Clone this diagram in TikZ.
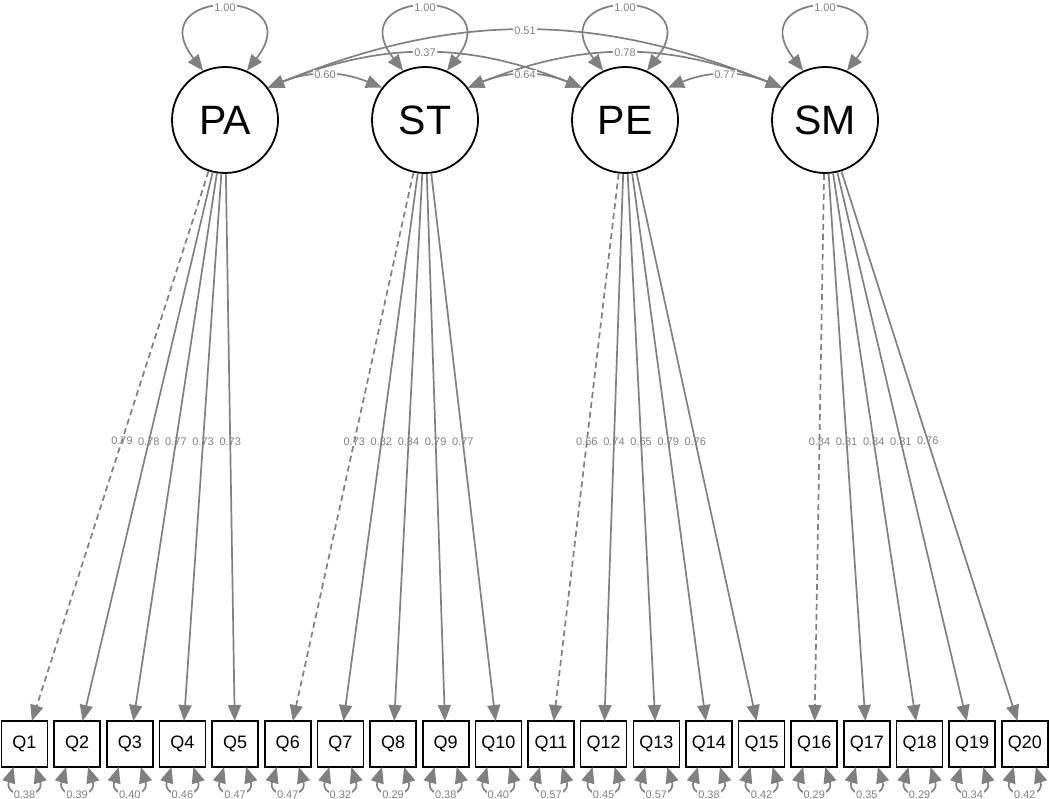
\documentclass[tikz,border=0pt]{standalone}
\usepackage{fontspec}
\setmainfont{Liberation Sans}
\usetikzlibrary{positioning,arrows.meta}
\definecolor{pathgray}{RGB}{128,128,128}
\tikzset{
  latent/.style={
    draw,
    circle,
    line width=1.8pt,
    minimum size=106pt,
    inner sep=0pt,
    font=\fontsize{41}{41}\selectfont
  },
  manifest/.style={
    draw,
    rectangle,
    line width=1.6pt,
    minimum width=46pt,
    minimum height=46pt,
    inner sep=0pt,
    outer sep=0pt,
    font=\fontsize{18}{18}\selectfont
  },
  line/.style={-{Triangle[length=16pt,width=13pt]},draw=pathgray,line width=1.7pt},
  twoway/.style={{Triangle[length=16pt,width=13pt]}-{Triangle[length=16pt,width=13pt]},draw=pathgray,line width=1.7pt},
  firstload/.style={dash pattern=on 6pt off 4pt},
  est/.style={text=pathgray,font=\fontsize{11}{11}\selectfont,inner sep=1pt},
  estbox/.style={est,fill=white}
}
\begin{document}
\begin{tikzpicture}[x=1pt,y=-1pt]

  \useasboundingbox (0,0) rectangle (1050,799);

  % factors
  \node[latent] (PA) at (225,120) {PA};
  \node[latent, right = 92.2pt of PA] (ST) {ST};
  \node[latent, right = 92.2pt of ST] (PE) {PE};
  \node[latent, right = 92.2pt of PE] (SM) {SM};

  % items
  \node[manifest] (Q1) at (24.5,744) {Q1};
  \node[manifest, right = 6.65pt of Q1] (Q2) {Q2};
  \node[manifest, right = 6.65pt of Q2] (Q3) {Q3};
  \node[manifest, right = 6.65pt of Q3] (Q4) {Q4};
  \node[manifest, right = 6.65pt of Q4] (Q5) {Q5};
  \node[manifest, right = 6.65pt of Q5] (Q6) {Q6};
  \node[manifest, right = 6.65pt of Q6] (Q7) {Q7};
  \node[manifest, right = 6.65pt of Q7] (Q8) {Q8};
  \node[manifest, right = 6.65pt of Q8] (Q9) {Q9};
  \node[manifest, right = 6.65pt of Q9] (Q10) {Q10};
  \node[manifest, right = 6.65pt of Q10] (Q11) {Q11};
  \node[manifest, right = 6.65pt of Q11] (Q12) {Q12};
  \node[manifest, right = 6.65pt of Q12] (Q13) {Q13};
  \node[manifest, right = 6.65pt of Q13] (Q14) {Q14};
  \node[manifest, right = 6.65pt of Q14] (Q15) {Q15};
  \node[manifest, right = 6.65pt of Q15] (Q16) {Q16};
  \node[manifest, right = 6.65pt of Q16] (Q17) {Q17};
  \node[manifest, right = 6.65pt of Q17] (Q18) {Q18};
  \node[manifest, right = 6.65pt of Q18] (Q19) {Q19};
  \node[manifest, right = 6.65pt of Q19] (Q20) {Q20};

  % factor variances
  \draw[twoway] (PA.114) .. controls +(-65,-84) and +(65,-84) .. (PA.66) node[estbox, pos=0.5] {1.00};
  \draw[twoway] (ST.114) .. controls +(-65,-84) and +(65,-84) .. (ST.66) node[estbox, pos=0.5] {1.00};
  \draw[twoway] (PE.114) .. controls +(-65,-84) and +(65,-84) .. (PE.66) node[estbox, pos=0.5] {1.00};
  \draw[twoway] (SM.114) .. controls +(-65,-84) and +(65,-84) .. (SM.66) node[estbox, pos=0.5] {1.00};

  % covariances
  \draw[twoway] (PA.37) .. controls +(187,-76) and +(-187,-76) .. (SM.143) node[estbox, pos=0.5] {0.51};
  \draw[twoway] (PA.37) .. controls +(115,-46) and +(-115,-46) .. (PE.143) node[estbox, pos=0.5] {0.37};
  \draw[twoway] (ST.37) .. controls +(115,-46) and +(-115,-46) .. (SM.143) node[estbox, pos=0.5] {0.78};
  \draw[twoway] (PA.37) .. controls +(42,-17) and +(-42,-17) .. (ST.143) node[estbox, pos=0.5] {0.60};
  \draw[twoway] (ST.37) .. controls +(42,-17) and +(-42,-17) .. (PE.143) node[estbox, pos=0.5] {0.64};
  \draw[twoway] (PE.37) .. controls +(42,-17) and +(-42,-17) .. (SM.143) node[estbox, pos=0.5] {0.77};

  % loadings
  \draw[line, firstload] (PA) -- (Q1) node[est, pos=0.49] {0.79};
  \draw[line] (PA) -- (Q2) node[est, pos=0.49] {0.78};
  \draw[line] (PA) -- (Q3) node[est, pos=0.49] {0.77};
  \draw[line] (PA) -- (Q4) node[est, pos=0.49] {0.73};
  \draw[line] (PA) -- (Q5) node[est, pos=0.49] {0.73};
  \draw[line, firstload] (ST) -- (Q6) node[est, pos=0.49] {0.73};
  \draw[line] (ST) -- (Q7) node[est, pos=0.49] {0.82};
  \draw[line] (ST) -- (Q8) node[est, pos=0.49] {0.84};
  \draw[line] (ST) -- (Q9) node[est, pos=0.49] {0.79};
  \draw[line] (ST) -- (Q10) node[est, pos=0.49] {0.77};
  \draw[line, firstload] (PE) -- (Q11) node[est, pos=0.49] {0.66};
  \draw[line] (PE) -- (Q12) node[est, pos=0.49] {0.74};
  \draw[line] (PE) -- (Q13) node[est, pos=0.49] {0.65};
  \draw[line] (PE) -- (Q14) node[est, pos=0.49] {0.79};
  \draw[line] (PE) -- (Q15) node[est, pos=0.49] {0.76};
  \draw[line, firstload] (SM) -- (Q16) node[est, pos=0.49] {0.84};
  \draw[line] (SM) -- (Q17) node[est, pos=0.49] {0.81};
  \draw[line] (SM) -- (Q18) node[est, pos=0.49] {0.84};
  \draw[line] (SM) -- (Q19) node[est, pos=0.49] {0.81};
  \draw[line] (SM) -- (Q20) node[est, pos=0.49] {0.76};

  % residuals
  \draw[twoway] ([xshift=-11pt]Q1.south) .. controls +(-10,32) and +(10,32) .. ([xshift=11pt]Q1.south) node[estbox, pos=0.5, yshift=-4pt] {0.38};
  \draw[twoway] ([xshift=-11pt]Q2.south) .. controls +(-10,32) and +(10,32) .. ([xshift=11pt]Q2.south) node[estbox, pos=0.5, yshift=-4pt] {0.39};
  \draw[twoway] ([xshift=-11pt]Q3.south) .. controls +(-10,32) and +(10,32) .. ([xshift=11pt]Q3.south) node[estbox, pos=0.5, yshift=-4pt] {0.40};
  \draw[twoway] ([xshift=-11pt]Q4.south) .. controls +(-10,32) and +(10,32) .. ([xshift=11pt]Q4.south) node[estbox, pos=0.5, yshift=-4pt] {0.46};
  \draw[twoway] ([xshift=-11pt]Q5.south) .. controls +(-10,32) and +(10,32) .. ([xshift=11pt]Q5.south) node[estbox, pos=0.5, yshift=-4pt] {0.47};
  \draw[twoway] ([xshift=-11pt]Q6.south) .. controls +(-10,32) and +(10,32) .. ([xshift=11pt]Q6.south) node[estbox, pos=0.5, yshift=-4pt] {0.47};
  \draw[twoway] ([xshift=-11pt]Q7.south) .. controls +(-10,32) and +(10,32) .. ([xshift=11pt]Q7.south) node[estbox, pos=0.5, yshift=-4pt] {0.32};
  \draw[twoway] ([xshift=-11pt]Q8.south) .. controls +(-10,32) and +(10,32) .. ([xshift=11pt]Q8.south) node[estbox, pos=0.5, yshift=-4pt] {0.29};
  \draw[twoway] ([xshift=-11pt]Q9.south) .. controls +(-10,32) and +(10,32) .. ([xshift=11pt]Q9.south) node[estbox, pos=0.5, yshift=-4pt] {0.38};
  \draw[twoway] ([xshift=-11pt]Q10.south) .. controls +(-10,32) and +(10,32) .. ([xshift=11pt]Q10.south) node[estbox, pos=0.5, yshift=-4pt] {0.40};
  \draw[twoway] ([xshift=-11pt]Q11.south) .. controls +(-10,32) and +(10,32) .. ([xshift=11pt]Q11.south) node[estbox, pos=0.5, yshift=-4pt] {0.57};
  \draw[twoway] ([xshift=-11pt]Q12.south) .. controls +(-10,32) and +(10,32) .. ([xshift=11pt]Q12.south) node[estbox, pos=0.5, yshift=-4pt] {0.45};
  \draw[twoway] ([xshift=-11pt]Q13.south) .. controls +(-10,32) and +(10,32) .. ([xshift=11pt]Q13.south) node[estbox, pos=0.5, yshift=-4pt] {0.57};
  \draw[twoway] ([xshift=-11pt]Q14.south) .. controls +(-10,32) and +(10,32) .. ([xshift=11pt]Q14.south) node[estbox, pos=0.5, yshift=-4pt] {0.38};
  \draw[twoway] ([xshift=-11pt]Q15.south) .. controls +(-10,32) and +(10,32) .. ([xshift=11pt]Q15.south) node[estbox, pos=0.5, yshift=-4pt] {0.42};
  \draw[twoway] ([xshift=-11pt]Q16.south) .. controls +(-10,32) and +(10,32) .. ([xshift=11pt]Q16.south) node[estbox, pos=0.5, yshift=-4pt] {0.29};
  \draw[twoway] ([xshift=-11pt]Q17.south) .. controls +(-10,32) and +(10,32) .. ([xshift=11pt]Q17.south) node[estbox, pos=0.5, yshift=-4pt] {0.35};
  \draw[twoway] ([xshift=-11pt]Q18.south) .. controls +(-10,32) and +(10,32) .. ([xshift=11pt]Q18.south) node[estbox, pos=0.5, yshift=-4pt] {0.29};
  \draw[twoway] ([xshift=-11pt]Q19.south) .. controls +(-10,32) and +(10,32) .. ([xshift=11pt]Q19.south) node[estbox, pos=0.5, yshift=-4pt] {0.34};
  \draw[twoway] ([xshift=-11pt]Q20.south) .. controls +(-10,32) and +(10,32) .. ([xshift=11pt]Q20.south) node[estbox, pos=0.5, yshift=-4pt] {0.42};

\end{tikzpicture}
\end{document}
